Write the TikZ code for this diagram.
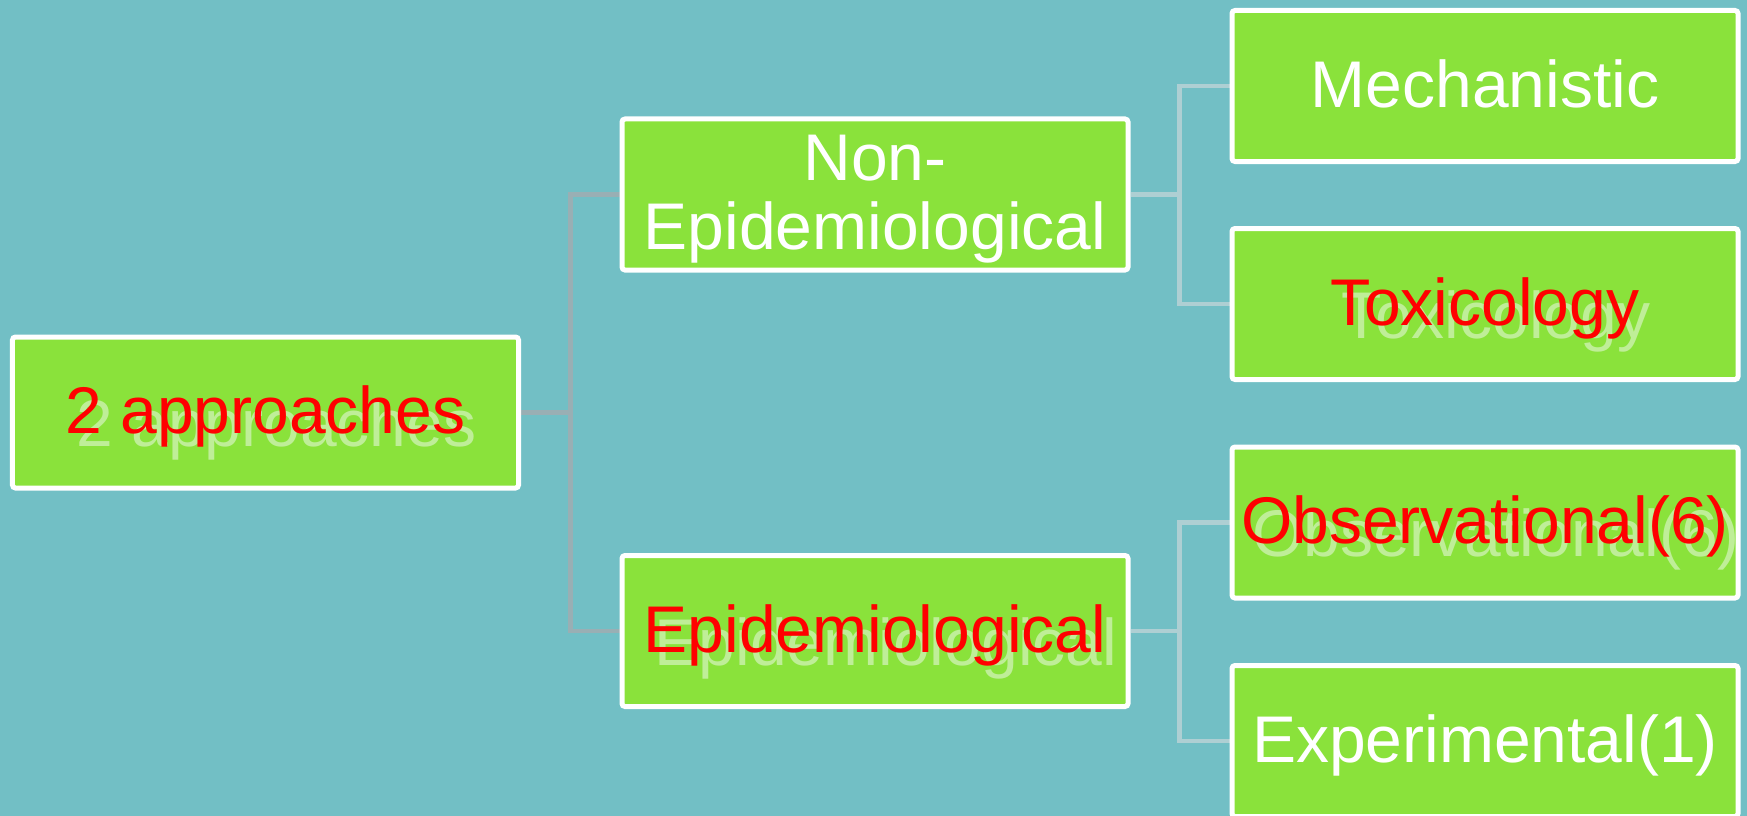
\documentclass[tikz,border=0pt]{standalone}
\usepackage{fontspec}
\setmainfont{Liberation Sans}
\usetikzlibrary{backgrounds}
\definecolor{bgc}{HTML}{72BFC5}
\definecolor{boxc}{HTML}{8AE23B}
\definecolor{linea}{HTML}{99AFB4}
\definecolor{lineb}{HTML}{AECFD3}
\definecolor{ghostc}{HTML}{BFEE98}
\newcommand\ghosted[1]{\makebox[0pt][l]{\hspace{11bp}\raisebox{-13bp}{\color{ghostc}#1}}#1}
\begin{document}
\begin{tikzpicture}[x=1bp,y=-1bp,
  box/.style={draw=white, line width=5bp, fill=boxc, rounded corners=3bp,
    minimum width=506bp, minimum height=151bp, inner sep=0pt,
    text height=47bp, text depth=5bp,
    font=\fontsize{66bp}{69bp}\selectfont, text=white},
  redbox/.style={box, text=red},
  conna/.style={draw=linea, line width=4.5bp},
  connb/.style={draw=lineb, line width=4.5bp}]
\useasboundingbox (0,0) rectangle (1747,816);
\clip (0,0) rectangle (1747,816);
\node[redbox] (a) at (265.5,412.5) {\ghosted{2 approaches}};
\node[box, text height=61bp, text depth=90bp] (ne) at (875,194.5) {\begin{tabular}[t]{@{}c@{}}Non-\\Epidemiological\end{tabular}};
\node[redbox] (ep) at (875,631) {\ghosted{Epidemiological}};
\node[box] (me) at (1485,86) {Mechanistic};
\node[redbox] (tx) at (1485,304) {\ghosted{Toxicology}};
\node[redbox] (ob) at (1485,522.5) {\ghosted{Observational(6)}};
\node[box] (ex) at (1485,741) {Experimental(1)};
\coordinate (j1) at (570.5,412.5);
\coordinate (j2) at (1179.5,194.5);
\coordinate (j3) at (1179.5,631);
\begin{scope}[on background layer]
  \fill[bgc] (0,0) rectangle (1747,816);
  \draw[conna] (ne.west) -| (j1) |- (ep.west);
  \draw[conna] (a.east) -- (j1);
  \draw[connb] (me.west) -| (j2) |- (tx.west);
  \draw[connb] (ne.east) -- (j2);
  \draw[connb] (ob.west) -| (j3) |- (ex.west);
  \draw[connb] (ep.east) -- (j3);
\end{scope}
\end{tikzpicture}
\end{document}
